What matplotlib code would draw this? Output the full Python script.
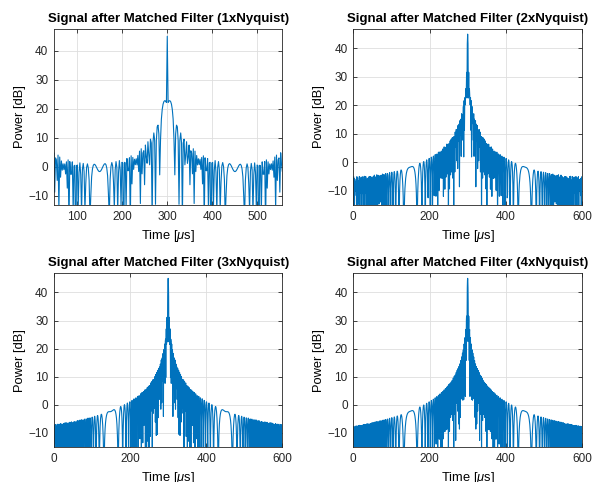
import numpy as np
import matplotlib
matplotlib.use("Agg")
import matplotlib.pyplot as plt

plt.rcParams['font.family'] = ['Liberation Sans', 'DejaVu Sans']
plt.rcParams['mathtext.fontset'] = 'custom'
plt.rcParams['mathtext.it'] = 'Liberation Sans:italic'

# LFM pulse (times in microseconds, frequencies in MHz)
pulse_len = 300.0
bandwidth = 0.5
nyquist_rate = 0.535
target_time = 300.0
peak_db = 45.0
oversampling = [1, 2, 3, 4]

titles = ['Signal after Matched Filter (1xNyquist)',
          'Signal after Matched Filter (2xNyquist)',
          'Signal after Matched Filter (3xNyquist)',
          'Signal after Matched Filter (4xNyquist)']
xlims = [(48, 556), (0, 600), (0, 600), (0, 600)]
ylims = [(-13.2, 47.5), (-15, 46.8), (-15, 46.8), (-15, 46.8)]
xticks = [[100, 200, 300, 400, 500], [0, 200, 400, 600],
          [0, 200, 400, 600], [0, 200, 400, 600]]
yticks = [-10, 0, 10, 20, 30, 40]

# axes boxes in figure fractions: left, bottom, width, height
boxes = [(0.0912, 0.5747, 0.3857, 0.3651),
         (0.5968, 0.5747, 0.3863, 0.3651),
         (0.0912, 0.0726, 0.3857, 0.3604),
         (0.5968, 0.0726, 0.3863, 0.3604)]

line_color = '#0072BD'


def matched_filter_output(m):
    fs = m * nyquist_rate
    t = np.arange(-pulse_len / 2, pulse_len / 2, 1.0 / fs)
    chirp = np.exp(1j * np.pi * (bandwidth / pulse_len) * t ** 2)
    y = np.convolve(chirp, np.conj(chirp[::-1]))
    lag = (np.arange(len(y)) - (len(chirp) - 1)) / fs
    p = 20 * np.log10(np.maximum(np.abs(y), 1e-12) / np.abs(y).max()) + peak_db
    return target_time + lag, p


fig = plt.figure(figsize=(5.92, 4.82), dpi=100)

for i, m in enumerate(oversampling):
    ax = fig.add_axes(boxes[i])
    time, power = matched_filter_output(m)
    ax.plot(time, power, color=line_color, linewidth=0.8)
    ax.set_xlim(*xlims[i])
    ax.set_ylim(*ylims[i])
    ax.set_xticks(xticks[i])
    ax.set_yticks(yticks)
    ax.grid(True, color='#dedede', linewidth=0.6)
    ax.set_axisbelow(True)
    ax.tick_params(direction='in', top=True, right=True, length=3,
                   width=0.6, labelsize=8.5, colors='#262626', pad=4)
    for s in ax.spines.values():
        s.set_color('#262626')
        s.set_linewidth(0.6)
    ax.set_title(titles[i], fontsize=9.5, fontweight='bold', pad=5)
    ax.set_xlabel(r'Time [$\mu$s]', fontsize=9.3, labelpad=4)
    ax.set_ylabel('Power [dB]', fontsize=9.3, labelpad=2)

fig.savefig('out.png', dpi=100)
